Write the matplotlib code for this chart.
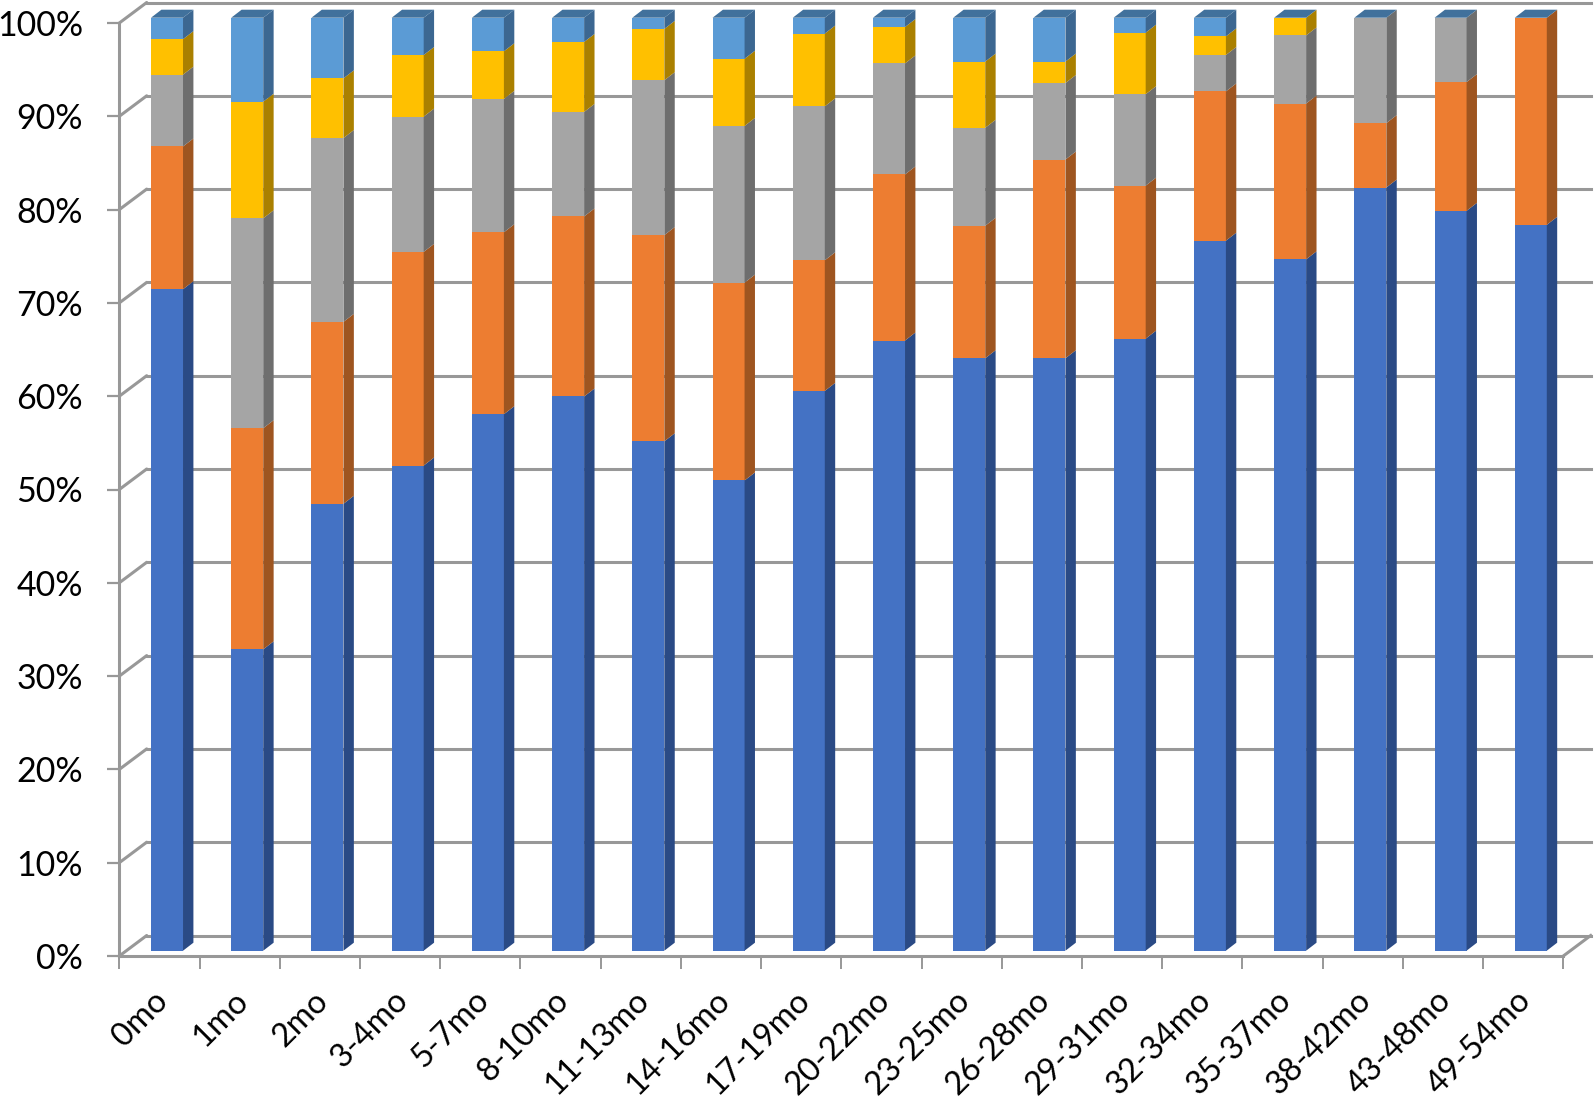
import matplotlib
matplotlib.use("Agg")
import matplotlib.pyplot as plt
from matplotlib.patches import Polygon
from matplotlib.transforms import ScaledTranslation
import numpy as np

plt.rcParams["font.family"] = ["Lato", "DejaVu Sans"]

categories = ["0mo", "1mo", "2mo", "3-4mo", "5-7mo", "8-10mo", "11-13mo", "14-16mo", "17-19mo",
              "20-22mo", "23-25mo", "26-28mo", "29-31mo", "32-34mo", "35-37mo", "38-42mo",
              "43-48mo", "49-54mo"]
series_a = [70.9, 32.3, 47.9, 52.0, 57.5, 59.4, 54.6, 50.4, 60.0, 65.4, 63.5, 63.5, 65.6, 76.1, 74.1, 81.8, 79.3, 77.8]
series_b = [15.3, 23.7, 19.5, 22.9, 19.5, 19.3, 22.1, 21.2, 14.0, 17.8, 14.2, 21.3, 16.4, 16.0, 16.7, 6.9, 13.8, 22.2]
series_c = [7.7, 22.5, 19.7, 14.5, 14.3, 11.2, 16.6, 16.8, 16.5, 11.9, 10.5, 8.2, 9.8, 3.9, 7.3, 11.3, 6.9, 0.0]
series_d = [3.8, 12.5, 6.4, 6.6, 5.1, 7.5, 5.5, 7.2, 7.8, 3.9, 7.1, 2.3, 6.6, 2.0, 1.9, 0.0, 0.0, 0.0]
series_e = [2.3, 9.0, 6.5, 4.0, 3.6, 2.6, 1.2, 4.4, 1.7, 1.0, 4.7, 4.7, 1.6, 2.0, 0.0, 0.0, 0.0, 0.0]
all_series = [series_a, series_b, series_c, series_d, series_e]

front_colors = ["#4472C4", "#ED7D31", "#A5A5A5", "#FFC000", "#5B9BD5"]
side_colors = ["#2A4A85", "#9E5520", "#6E6E6E", "#AA8000", "#3C6791"]
top_color = "#41719C"
grid_color = "#989898"

W, H = 1594, 1104
L, R, B, T = 119.3, 1563.3, 956.0, 23.0
fig = plt.figure(figsize=(W / 100, H / 100), dpi=100, facecolor="white")
ax = fig.add_axes([L / W, 1 - B / H, (R - L) / W, (B - T) / H])

n = len(categories)
x = np.arange(n)
ax.set_xlim(-0.5, n - 0.5)
ax.set_ylim(0, 100)
px_x = (R - L) / n          # pixels per category
px_y = (B - T) / 100        # pixels per percent

# oblique offsets in data units
wall_dx, wall_dy = 27.4 / px_x, 20.5 / px_y
bar_dx, bar_dy = 10.4 / px_x, 8.0 / px_y
bar_w = 32.0 / px_x
bar_shift_x, bar_shift_y = 7.6 / px_x, 5.3 / px_y

lw = 2.2
# back wall and side wall grid
yticks = np.arange(0, 101, 10)
for v in yticks:
    ax.plot([-0.5, -0.5 + wall_dx], [v, v + wall_dy], color=grid_color, lw=lw, clip_on=False,
            zorder=1, solid_capstyle="round")
    ax.plot([-0.5 + wall_dx, n - 0.5 + wall_dx], [v + wall_dy, v + wall_dy], color=grid_color, lw=lw,
            clip_on=False, zorder=1)
ax.plot([n - 0.5, n - 0.5 + wall_dx], [0, wall_dy], color=grid_color, lw=lw, clip_on=False, zorder=1)

# stacked bars
cx = x + bar_shift_x
bottom = np.full(n, bar_shift_y, dtype=float)
for vals, fc, sc in zip(all_series, front_colors, side_colors):
    vals = np.array(vals)
    ax.bar(cx, vals, bar_w, bottom=bottom, color=fc, linewidth=0, zorder=3, clip_on=False)
    for xi, b, v in zip(cx, bottom, vals):
        if v > 0:
            xr = xi + bar_w / 2
            ax.add_patch(Polygon([(xr, b), (xr + bar_dx, b + bar_dy), (xr + bar_dx, b + v + bar_dy), (xr, b + v)],
                                 closed=True, facecolor=sc, edgecolor="none", zorder=3, clip_on=False))
    bottom = bottom + vals
for xi, b in zip(cx, bottom):
    xl, xr = xi - bar_w / 2, xi + bar_w / 2
    ax.add_patch(Polygon([(xl, b), (xr, b), (xr + bar_dx, b + bar_dy), (xl + bar_dx, b + bar_dy)],
                         closed=True, facecolor=top_color, edgecolor="none", zorder=3, clip_on=False))

# axes
for s in ["top", "right"]:
    ax.spines[s].set_visible(False)
for s in ["left", "bottom"]:
    ax.spines[s].set_color(grid_color)
    ax.spines[s].set_linewidth(lw)
    ax.spines[s].set_zorder(2)
ax.patch.set_alpha(0)

ax.set_yticks(yticks)
ax.set_yticklabels([f"{v}%" for v in yticks], fontsize=24.5, color="black")
ax.tick_params(axis="y", length=9, width=1.6, color=grid_color, pad=17)
ax.set_xticks(np.arange(n + 1) - 0.5)
ax.set_xticklabels([])
ax.tick_params(axis="x", which="major", length=9, width=1.4, color=grid_color)
ax.set_xticks(x, minor=True)
ax.set_xticklabels(categories, minor=True, rotation=45, ha="right", va="top",
                   rotation_mode="anchor", fontsize=23.5, color="black")
ax.tick_params(axis="x", which="minor", length=0, pad=21)
shift = ScaledTranslation(-7 / 100, 0, fig.dpi_scale_trans)
for lab in ax.get_xticklabels(minor=True):
    lab.set_transform(lab.get_transform() + shift)

fig.savefig("out.png", dpi=100, facecolor="white")
